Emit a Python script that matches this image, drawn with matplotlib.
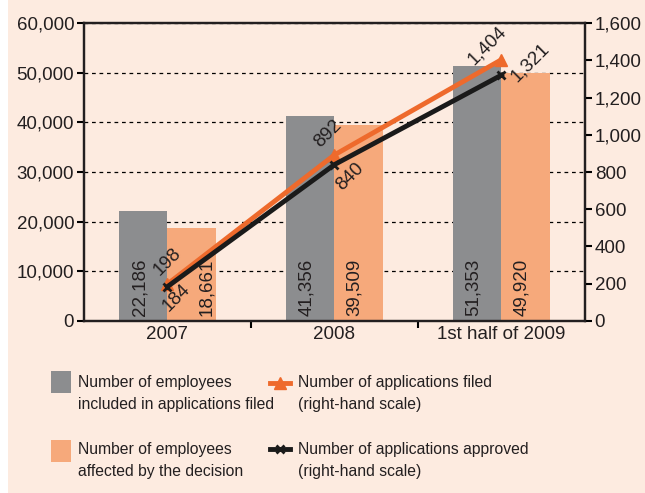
import numpy as np
from matplotlib import pyplot as plt
from matplotlib.lines import Line2D
from matplotlib.patches import Rectangle

plt.rcParams['font.family'] = ['Liberation Sans', 'DejaVu Sans']

# Datos
periodos = ['2007', '2008', '1st half of 2009']
empleadosSolicitud = [22186, 41356, 51353]
empleadosDecision = [18661, 39509, 49920]
solicitudesPresentadas = [198, 892, 1404]
solicitudesAprobadas = [184, 840, 1321]

fondo = '#FDEBE0'
gris = '#8C8D8F'
naranjaBarra = '#F6A97B'
naranjaLinea = '#EE6A2C'
negro = '#1A1A1A'
texto = '#231F20'
tam = 13.5

W, H = 645, 493
fig = plt.figure(figsize=(W / 100, H / 100), dpi=100)
fig.patch.set_facecolor('white')
fig.patches.append(Rectangle((8 / W, 0), 1, 1, transform=fig.transFigure,
                             facecolor=fondo, edgecolor='none', zorder=-10))

ax = fig.add_axes([0.130, 0.349, 0.777, 0.604])
ax.set_facecolor(fondo)
x = np.arange(len(periodos))
ancho = 0.29

ax.bar(x - ancho / 2, empleadosSolicitud, ancho, color=gris, zorder=2)
ax.bar(x + ancho / 2, empleadosDecision, ancho, color=naranjaBarra, zorder=2)

# valores de las barras en vertical; el de 2007 naranja se aparta de la etiqueta 184
desplGris = [-3, -4, -4]
desplNaranja = [15, -4, -4]
for i in range(len(x)):
    ax.annotate(f'{empleadosSolicitud[i]:,}', (x[i] - ancho / 2, 0),
                xytext=(desplGris[i], 5), textcoords='offset pixels', rotation=90,
                ha='center', va='bottom', fontsize=tam, color=texto, zorder=3)
    ax.annotate(f'{empleadosDecision[i]:,}', (x[i] + ancho / 2, 0),
                xytext=(desplNaranja[i], 5), textcoords='offset pixels', rotation=90,
                ha='center', va='bottom', fontsize=tam, color=texto, zorder=3)

ax.set_xlim(-0.5, 2.5)
ax.set_ylim(0, 60000)
ax.set_yticks(range(0, 60001, 10000))
ax.set_yticklabels([f'{v:,}' for v in range(0, 60001, 10000)])
ax.yaxis.grid(True, linestyle=(0, (3, 3)), color='black', linewidth=0.9, zorder=0)
ax.set_axisbelow(True)

# ticks del eje x entre categorias, etiquetas centradas
ax.set_xticks([0.5, 1.5])
ax.set_xticklabels([])
ax.set_xticks(x, minor=True)
ax.set_xticklabels(periodos, minor=True)
ax.tick_params(axis='x', which='minor', length=0, pad=4, labelsize=tam, labelcolor=texto)
ax.tick_params(axis='x', which='major', length=5, width=1.5, direction='out')
ax.tick_params(axis='y', length=5, width=1.5, direction='out', labelsize=tam,
               labelcolor=texto, pad=2)

for sp in ax.spines.values():
    sp.set_color(texto)
    sp.set_linewidth(1.6)

ax2 = ax.twinx()
ax2.set_ylim(0, 1600)
ax2.set_yticks(range(0, 1601, 200))
ax2.set_yticklabels([f'{v:,}' for v in range(0, 1601, 200)])
ax2.tick_params(axis='y', length=5, width=1.5, direction='out', labelsize=tam,
                labelcolor=texto, pad=2)
for sp in ax2.spines.values():
    sp.set_color(texto)
    sp.set_linewidth(1.6)

ax2.plot(x, solicitudesPresentadas, color=naranjaLinea, linewidth=3.5,
         marker='^', markersize=8, zorder=3)
ax2.plot(x, solicitudesAprobadas, color=negro, linewidth=3.5,
         marker='x', markersize=6, markeredgewidth=2, zorder=4)

# etiquetas de las lineas, giradas 45 grados (desplazamiento en pixeles)
desplPresentadas = [(0, 22), (-6, 21), (-14, 14)]
desplAprobadas = [(9, -11), (16, -12), (29, 13)]
for i in range(len(x)):
    ax2.annotate(f'{solicitudesPresentadas[i]:,}', (x[i], solicitudesPresentadas[i]),
                 xytext=desplPresentadas[i], textcoords='offset pixels', rotation=45,
                 ha='center', va='center', fontsize=tam, color=texto)
    ax2.annotate(f'{solicitudesAprobadas[i]:,}', (x[i], solicitudesAprobadas[i]),
                 xytext=desplAprobadas[i], textcoords='offset pixels', rotation=45,
                 ha='center', va='center', fontsize=tam, color=texto)


# leyenda dibujada a mano en coordenadas de pixel de la figura
def px(xp, yp):
    return xp / W, 1 - yp / H


def entradaLeyenda(xp, yp, etiqueta):
    fig.text(*px(xp, yp), etiqueta, ha='left', va='top', fontsize=11.3,
             color=texto, linespacing=1.62)


for col, y0 in [(gris, 371), (naranjaBarra, 440)]:
    fig.patches.append(Rectangle(px(51, y0 + 22), 20 / W, 22 / H,
                                 transform=fig.transFigure, facecolor=col,
                                 edgecolor='none'))

fig.lines.append(Line2D([270 / W, 290 / W], [1 - 383 / H] * 2, transform=fig.transFigure,
                        color=naranjaLinea, linewidth=3.5))
fig.lines.append(Line2D([280 / W], [1 - 383 / H], transform=fig.transFigure,
                        color=naranjaLinea, marker='^', markersize=8))
fig.lines.append(Line2D([270 / W, 290 / W], [1 - 449 / H] * 2, transform=fig.transFigure,
                        color=negro, linewidth=3.5))
fig.lines.append(Line2D([280 / W], [1 - 449 / H], transform=fig.transFigure,
                        color=negro, marker='x', markersize=6, markeredgewidth=2))

entradaLeyenda(78, 375, 'Number of employees\nincluded in applications filed')
entradaLeyenda(78, 442, 'Number of employees\naffected by the decision')
entradaLeyenda(298, 375, 'Number of applications filed\n(right-hand scale)')
entradaLeyenda(298, 442, 'Number of applications approved\n(right-hand scale)')

fig.savefig('out.png', dpi=100, facecolor=fig.get_facecolor())
